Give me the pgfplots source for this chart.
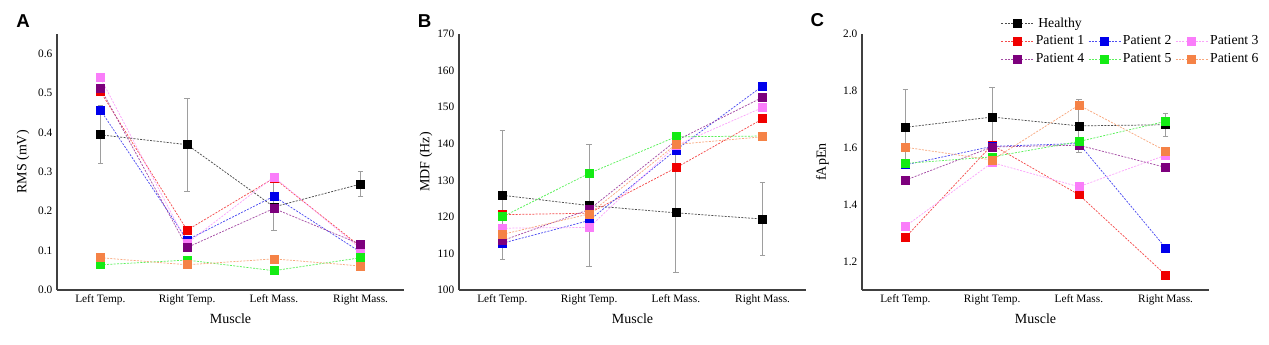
\documentclass[border=0pt]{standalone}
\usepackage{fontspec}
\setmainfont{Liberation Serif}
\newfontfamily\lsans{Liberation Sans}
\usepackage{pgfplots}
\pgfplotsset{compat=1.18}
\usepackage{pgfplotstable}

\definecolor{cH}{RGB}{0,0,0}
\definecolor{c1}{RGB}{240,0,0}
\definecolor{c2}{RGB}{0,0,235}
\definecolor{c3}{RGB}{250,125,250}
\definecolor{c4}{RGB}{125,0,125}
\definecolor{c5}{RGB}{20,235,20}
\definecolor{c6}{RGB}{245,130,70}

\pgfplotstableread{
x H He P1 P2 P3 P4 P5 P6
0 0.394 0.074 0.504 0.457 0.539 0.513 0.064 0.082
1 0.369 0.118 0.152 0.127 0.119 0.108 0.076 0.064
2 0.211 0.061 0.284 0.238 0.287 0.207 0.049 0.079
3 0.269 0.032 0.110 0.096 0.105 0.116 0.082 0.061
}\dataA
\pgfplotstableread{
x H He P1 P2 P3 P4 P5 P6
0 125.9 17.6 120.6 112.8 116.9 113.5 120.0 115.2
1 123.1 16.8 121.0 119.0 117.1 122.0 131.9 120.8
2 121.1 16.4 133.4 138.3 139.5 140.8 141.9 139.8
3 119.4 10.1 146.8 155.8 149.9 152.7 142.1 141.9
}\dataB
\pgfplotstableread{
x H He P1 P2 P3 P4 P5 P6
0 1.672 0.133 1.285 1.540 1.324 1.486 1.545 1.602
1 1.708 0.105 1.610 1.605 1.548 1.603 1.568 1.557
2 1.677 0.092 1.435 1.615 1.463 1.609 1.622 1.750
3 1.681 0.040 1.153 1.248 1.574 1.531 1.693 1.589
}\dataC

\pgfplotsset{
 panel/.style={
  scale only axis, width=260.25pt, height=192pt,
  axis lines=left, axis line style={black!75, line width=0.8pt, -},
  xmin=-0.5, xmax=3.5, xtick={0,1,2,3},
  xticklabels={Left Temp., Right Temp., Left Mass., Right Mass.},
  major tick length=0pt,
  tick label style={font=\fontsize{8.5}{10}\selectfont},
  label style={font=\fontsize{10.5}{12}\selectfont},
  /pgf/number format/assume math mode=true,
  xlabel={Muscle},
  xlabel style={at={(axis description cs:0.5,-0.112)}, anchor=center},
  clip=false,
  anchor=south west,
  legend image code/.code={\draw[mark repeat=2,mark phase=2] plot coordinates {(0pt,0pt) (12pt,0pt) (24pt,0pt)};},
 },
 ser/.style={draw=#1!70, mark=square*, mark size=3pt, mark options={solid, fill=#1, draw=#1}, line width=0.55pt, dash pattern=on 1.5pt off 1pt},
 herr/.style={error bars/.cd, y dir=both, y explicit,
   error bar style={black!38, line width=0.75pt, solid},
   error mark options={rotate=90, mark size=2pt, black!38, line width=0.75pt, solid}},
}

\begin{document}
\begin{tikzpicture}
\useasboundingbox (0,0) rectangle (951.75pt,258pt);

% Panel A
\begin{axis}[panel, at={(42.75pt,40.5pt)},
  ymin=0, ymax=0.65, ytick={0,0.1,...,0.61},
  yticklabel style={/pgf/number format/.cd, fixed, fixed zerofill, precision=1},
  ylabel={RMS (mV)},
  ylabel style={at={(axis description cs:-0.098,0.5)}, anchor=center}]
\addplot[ser=cH, herr] table[x=x, y=H, y error=He]{\dataA};
\addplot[ser=c1] table[x=x, y=P1]{\dataA};
\addplot[ser=c2] table[x=x, y=P2]{\dataA};
\addplot[ser=c3] table[x=x, y=P3]{\dataA};
\addplot[ser=c4] table[x=x, y=P4]{\dataA};
\addplot[ser=c5] table[x=x, y=P5]{\dataA};
\addplot[ser=c6] table[x=x, y=P6]{\dataA};
\end{axis}

% Panel B
\begin{axis}[panel, at={(344.25pt,40.5pt)},
  ymin=100, ymax=170, ytick={100,110,...,170},
  ylabel={MDF (Hz)},
  ylabel style={at={(axis description cs:-0.095,0.5)}, anchor=center}]
\addplot[ser=cH, herr] table[x=x, y=H, y error=He]{\dataB};
\addplot[ser=c1] table[x=x, y=P1]{\dataB};
\addplot[ser=c2] table[x=x, y=P2]{\dataB};
\addplot[ser=c3] table[x=x, y=P3]{\dataB};
\addplot[ser=c4] table[x=x, y=P4]{\dataB};
\addplot[ser=c5] table[x=x, y=P5]{\dataB};
\addplot[ser=c6] table[x=x, y=P6]{\dataB};
\end{axis}

% Panel C
\begin{axis}[panel, at={(646.5pt,40.5pt)},
  ymin=1.1, ymax=2.0, ytick={1.2,1.4,1.6,1.8,2.0},
  yticklabel style={/pgf/number format/.cd, fixed, fixed zerofill, precision=1},
  ylabel={fApEn},
  ylabel style={at={(axis description cs:-0.114,0.5)}, anchor=center},
  legend columns=3,
  legend style={draw=none, fill=none, inner sep=0pt,
    at={(axis description cs:0.40,1.076)}, anchor=north west,
    font=\fontsize{10.3}{12}\selectfont,
    nodes={inner xsep=1.5pt},
    row sep=1pt,
    /tikz/every odd column/.append style={column sep=0pt},
    /tikz/every even column/.append style={column sep=1.5pt}}]
\addplot[ser=cH, herr] table[x=x, y=H, y error=He]{\dataC};
\addlegendentry{Healthy}
\addlegendimage{empty legend}\addlegendentry{}
\addlegendimage{empty legend}\addlegendentry{}
\addplot[ser=c1] table[x=x, y=P1]{\dataC};
\addlegendentry{Patient 1}
\addplot[ser=c2] table[x=x, y=P2]{\dataC};
\addlegendentry{Patient 2}
\addplot[ser=c3] table[x=x, y=P3]{\dataC};
\addlegendentry{Patient 3}
\addplot[ser=c4] table[x=x, y=P4]{\dataC};
\addlegendentry{Patient 4}
\addplot[ser=c5] table[x=x, y=P5]{\dataC};
\addlegendentry{Patient 5}
\addplot[ser=c6] table[x=x, y=P6]{\dataC};
\addlegendentry{Patient 6}
\end{axis}

\node[font=\lsans\bfseries\fontsize{14}{16}\selectfont] at (17.25pt,241.9pt) {A};
\node[font=\lsans\bfseries\fontsize{14}{16}\selectfont] at (318.4pt,241.9pt) {B};
\node[font=\lsans\bfseries\fontsize{14}{16}\selectfont] at (613.1pt,243pt) {C};
\end{tikzpicture}
\end{document}
